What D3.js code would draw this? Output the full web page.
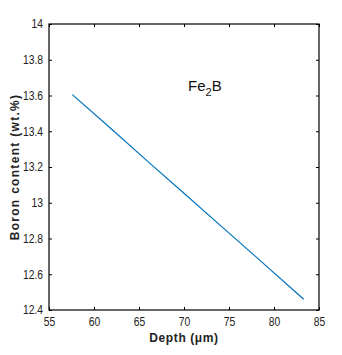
<!DOCTYPE html>
<html><head><meta charset="utf-8">
<script src="https://cdn.jsdelivr.net/npm/d3@7"></script>
<style>body{margin:0;background:#fff;} text{font-family:"Liberation Sans",Arial,sans-serif;}</style>
</head><body><svg id="c" width="342" height="355"></svg>
<script>
const depth = [57.6, 62.0, 66.0, 70.0, 74.0, 78.0, 83.3];
const boron = [13.605, 13.41, 13.23, 13.053, 12.875, 12.697, 12.46];
const xTicks = [55, 60, 65, 70, 75, 80, 85];
const yTicks = [12.4, 12.6, 12.8, 13, 13.2, 13.4, 13.6, 13.8, 14];

const svg = d3.select('#c');
const L = 49, R = 319, T = 24, B = 310;
const x = d3.scaleLinear().domain([55, 85]).range([L, R]);
const y = d3.scaleLinear().domain([12.4, 14]).range([B, T]);

const fmt = d => String(d);
const SX = 0.86;
svg.append('g').attr('transform', `translate(0,${B})`)
  .call(d3.axisBottom(x).tickValues(xTicks).tickSize(-3).tickPadding(7).tickFormat(fmt))
  .call(g => { g.select('.domain').remove();
    g.selectAll('text').attr('font-size', 12).attr('fill', '#222').attr('transform', `scale(${SX},1)`).attr('dy', '0.71em');
    g.selectAll('line').attr('stroke', '#000'); });
svg.append('g').attr('transform', `translate(0,${T})`)
  .call(d3.axisTop(x).tickValues(xTicks).tickSize(-3).tickFormat(''))
  .call(g => { g.select('.domain').remove(); g.selectAll('line').attr('stroke', '#000'); });
svg.append('g').attr('transform', `translate(${L},0)`)
  .call(d3.axisLeft(y).tickValues(yTicks).tickSize(-3).tickPadding(6).tickFormat(fmt))
  .call(g => { g.select('.domain').remove();
    g.selectAll('text').attr('font-size', 12).attr('fill', '#222')
      .attr('transform', `translate(-6,0) scale(${SX},1) translate(6,0)`);
    g.selectAll('line').attr('stroke', '#000'); });
svg.append('g').attr('transform', `translate(${R},0)`)
  .call(d3.axisRight(y).tickValues(yTicks).tickSize(-3).tickFormat(''))
  .call(g => { g.select('.domain').remove(); g.selectAll('line').attr('stroke', '#000'); });

svg.append('rect').attr('x', L).attr('y', T).attr('width', R - L).attr('height', B - T)
  .attr('fill', 'none').attr('stroke', '#000').attr('stroke-width', 1.2);

svg.append('path').datum(depth.map((d, i) => [d, boron[i]]))
  .attr('d', d3.line().x(d => x(d[0])).y(d => y(d[1])))
  .attr('fill', 'none').attr('stroke', '#0072BD').attr('stroke-width', 1.2);

const t = svg.append('text').attr('x', 188).attr('y', 91).attr('font-size', 15).attr('fill', '#111');
t.append('tspan').text('Fe');
t.append('tspan').attr('font-size', 11).attr('dy', 5).text('2');
t.append('tspan').attr('dy', -5).text('B');

svg.append('text').attr('x', 184).attr('y', 342).attr('text-anchor', 'middle')
  .attr('font-size', 12).attr('font-weight', 'bold').attr('fill', '#222').attr('letter-spacing', 0.6)
  .text('Depth (μm)');
svg.append('text').attr('transform', 'translate(19,167) rotate(-90)').attr('text-anchor', 'middle')
  .attr('font-size', 12).attr('font-weight', 'bold').attr('fill', '#222').attr('letter-spacing', 1.3)
  .text('Boron content (wt.%)');
</script></body></html>
